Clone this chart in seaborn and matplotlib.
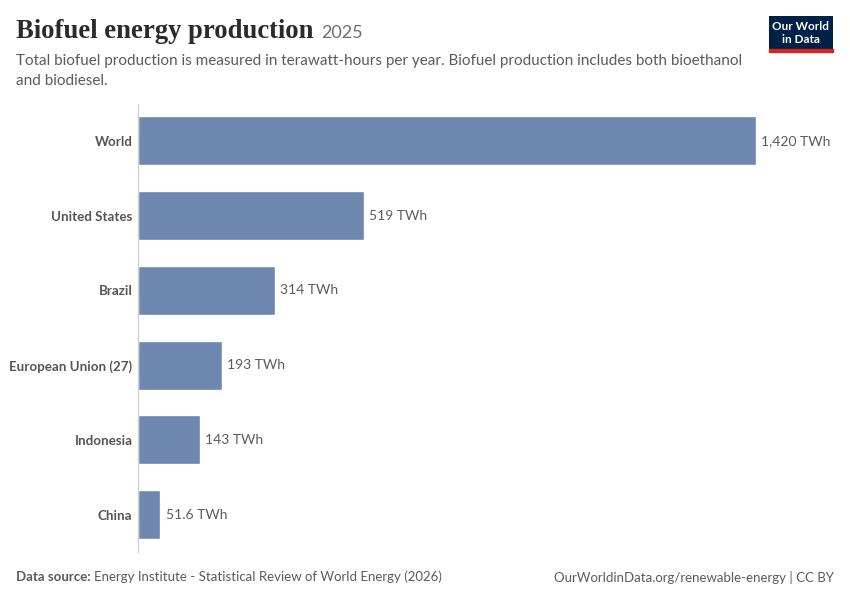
import matplotlib
matplotlib.use("Agg")
import matplotlib.pyplot as plt
import pandas as pd
import seaborn as sns

# Data (TWh, 2025)
countries = ["World", "United States", "Brazil", "European Union (27)", "Indonesia", "China"]
production = [1420, 519, 314, 193, 143, 51.6]
value_labels = ["1,420 TWh", "519 TWh", "314 TWh", "193 TWh", "143 TWh", "51.6 TWh"]

df = pd.DataFrame({"country": countries, "twh": production})

sns.set_theme(style="white")
plt.rcParams["font.family"] = ["Lato", "DejaVu Sans"]

fig = plt.figure(figsize=(8.5, 6), dpi=100)
ax = fig.add_axes([0.1624, 0.08, 0.8176, 0.7473])

sns.barplot(data=df, x="twh", y="country", color="#6d87b0", saturation=1,
            width=0.656, ax=ax)

for i, (v, lab) in enumerate(zip(production, value_labels)):
    ax.text(v + 12, i, lab, va="center", ha="left", fontsize=10, color="#5b5b5b")

ax.set_xlim(0, 1597)
ax.set_ylim(5.5, -0.5)
ax.set_xlabel("")
ax.set_ylabel("")
ax.set_xticks([])
ax.tick_params(axis="y", length=0, pad=4)
for lab in ax.get_yticklabels():
    lab.set_fontsize(9.6)
    lab.set_fontweight("bold")
    lab.set_color("#555555")
for s in ["top", "right", "bottom"]:
    ax.spines[s].set_visible(False)
ax.spines["left"].set_color("#d0d0d0")
ax.spines["left"].set_linewidth(1)

renderer = fig.canvas.get_renderer()


def right_edge(t):
    # right edge of a text in figure coords
    bb = t.get_window_extent(renderer=renderer)
    return fig.transFigure.inverted().transform((bb.x1, bb.y0))[0]


# Title and subtitle
title = fig.text(0.019, 0.947, "Biofuel energy production", fontsize=19.2,
                 fontweight="bold", family=["Liberation Serif", "DejaVu Serif"],
                 color="#2b2b2b", va="center")
fig.text(right_edge(title) + 0.009, 0.945, "2025", fontsize=13, color="#6e6e6e",
         va="center")
fig.text(0.019, 0.898,
         "Total biofuel production is measured in terawatt-hours per year. "
         "Biofuel production includes both bioethanol",
         fontsize=11, color="#5b5b5b", va="center")
fig.text(0.019, 0.865, "and biodiesel.", fontsize=11, color="#5b5b5b", va="center")

# Logo
logo = fig.add_axes([0.9047, 0.9183, 0.0753, 0.055])
logo.set_facecolor("#002147")
logo.set_xticks([])
logo.set_yticks([])
for s in logo.spines.values():
    s.set_visible(False)
logo.text(0.5, 0.68, "Our World", color="white", fontsize=8.5, fontweight="bold",
          ha="center", va="center", transform=logo.transAxes)
logo.text(0.5, 0.3, "in Data", color="white", fontsize=8.5, fontweight="bold",
          ha="center", va="center", transform=logo.transAxes)
fig.add_artist(plt.Rectangle((0.9047, 0.9133), 0.0753, 0.005, color="#ce261e",
                             transform=fig.transFigure))

# Footer
src = fig.text(0.019, 0.038, "Data source:", fontsize=9.5, color="#5b5b5b",
               fontweight="bold", va="center")
fig.text(right_edge(src) + 0.004, 0.038,
         "Energy Institute - Statistical Review of World Energy (2026)",
         fontsize=9.5, color="#5b5b5b", va="center")
fig.text(0.981, 0.038, "OurWorldinData.org/renewable-energy | CC BY",
         fontsize=9.5, color="#5b5b5b", va="center", ha="right")

fig.savefig("out.png", dpi=100)
